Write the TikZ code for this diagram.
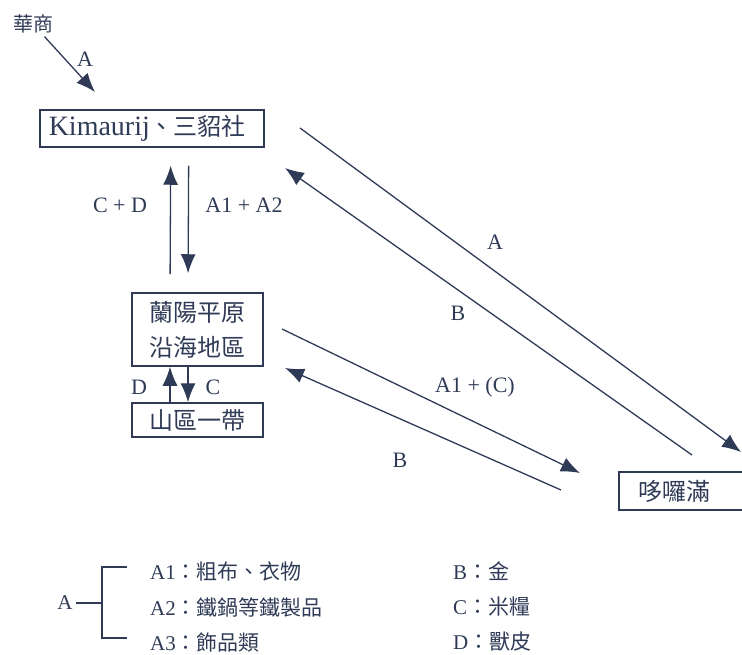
\documentclass[tikz,border=0pt]{standalone}
\usepackage{fontspec}
\setmainfont{Liberation Serif}
\newfontfamily\cjk{Noto Sans CJK TC}
\usetikzlibrary{arrows.meta,positioning}
\definecolor{ink}{HTML}{2F3B56}
\newcommand\boxfont{\fontsize{28}{35}\selectfont}
\newcommand\zhboxfont{\cjk\fontsize{24}{35}\selectfont}
\newcommand\lblfont{\fontsize{22}{26}\selectfont}
\newcommand\legfont{\fontsize{21}{24}\selectfont}
\newcommand\zh[1]{{\cjk\fontsize{21}{24}\selectfont#1}}
\tikzset{>=Latex,
  box/.style={draw=ink,line width=1.5pt,inner sep=0pt,text=ink,font=\zhboxfont},
  flow/.style={->,draw=ink,line width=1.3pt,>={Latex[length=19pt,width=15pt]}},
  lbl/.style={text=ink,font=\lblfont,inner sep=1pt},
  legend/.style={anchor=west,text=ink,font=\legfont,inner sep=0pt}}
\begin{document}
\begin{tikzpicture}[x=1pt,y=-1pt]
\useasboundingbox (0,0) rectangle (742,655);
% trading partners
\node[text=ink,font=\cjk\fontsize{20}{20}\selectfont,inner sep=1pt] (hs) at (33,24) {華商};
\node[box,anchor=west,minimum height=37,text width=206,inner xsep=9,font=\boxfont] (kim) at (39,128.5) {Kimaurij{\zhboxfont 、三貂社}};
\node[box,minimum width=131,minimum height=73,align=center] (lan) at (197.5,329.5) {蘭陽平原\\沿海地區};
\node[box,minimum width=131,minimum height=34] (shan) at (197.5,420) {山區一帶};
\node[box,anchor=west,minimum height=38,text width=111,inner xsep=20] (dol) at (618,491) {哆囉滿};
% free ends of the long arrows
\coordinate (hsend) at (95,92);
\coordinate (a0) at (300,128);\coordinate (a1) at (741,452);
\coordinate (b0) at (692,455);\coordinate (b1) at (285,168);
\coordinate (c0) at (282,329);\coordinate (c1) at (580,473);
\coordinate (d0) at (561,490);\coordinate (d1) at (285,368);
\draw[flow,shorten <=3pt] (hs) -- (hsend);
\node[lbl] (ha) at (85,59) {A};
\draw[flow,shorten <=18pt,shorten >=18pt] ([xshift=-27.5pt]lan.north) -- ([xshift=19pt]kim.south);
\draw[flow,shorten <=18pt,shorten >=19pt] ([xshift=37pt]kim.south) -- ([xshift=-9.5pt]lan.north);
\node[lbl] (cd) at (120,205) {C + D};
\node[lbl] (aa) at (244,205) {A1 + A2};
\draw[flow] ([xshift=-27.5pt]shan.north) -- ([xshift=-27.5pt]lan.south);
\draw[flow] ([xshift=-9.5pt]lan.south) -- ([xshift=-9.5pt]shan.north);
\node[lbl] (d) at (139,387) {D};
\node[lbl] (c) at (213,387) {C};
\draw[flow] (a0) -- (a1);\draw[flow] (b0) -- (b1);
\draw[flow] (c0) -- (c1);\draw[flow] (d0) -- (d1);
\node[lbl] (la) at (495,242) {A};
\node[lbl] (lb) at (458,313) {B};
\node[lbl] (lc) at (475,387) {A1 + (C)};
\node[lbl] (ld) at (400,460) {B};
% legend
\node[text=ink,font=\legfont] (ka) at (65,603) {A};
\draw[ink,line width=1.3pt] (ka.east) -- (102,603);
\draw[ink,line width=1.3pt] (127,567) -- (102,567) -- (102,638) -- (127,638);
\node[legend] (k1) at (150,571) {A1\zh{：粗布、衣物}};
\node[legend] (k2) at (150,607) {A2\zh{：鐵鍋等鐵製品}};
\node[legend] (k3) at (150,642) {A3\zh{：飾品類}};
\node[legend] (kb) at (453,571) {B\zh{：金}};
\node[legend] (kc) at (453,607) {C\zh{：米糧}};
\node[legend] (kd) at (453,642) {D\zh{：獸皮}};
\end{tikzpicture}
\end{document}
